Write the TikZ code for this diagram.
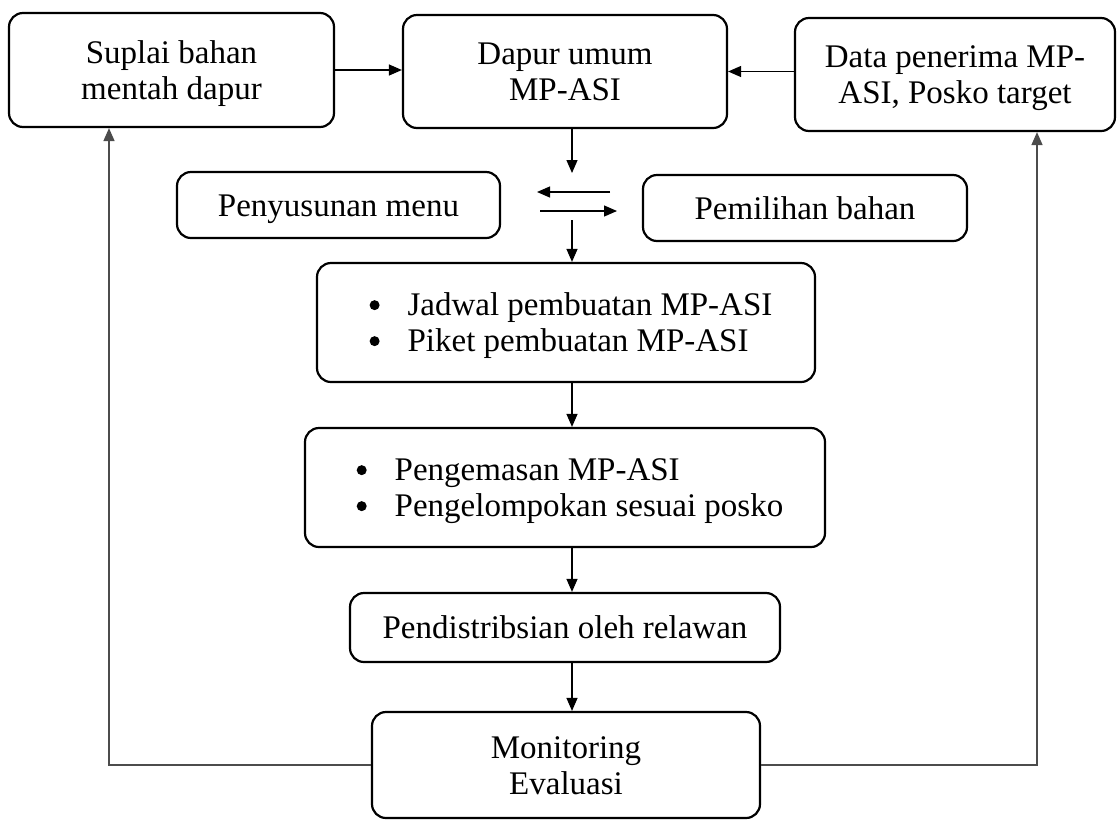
\documentclass[tikz,border=0pt]{standalone}
\usepackage{fontspec}
\setmainfont{Liberation Serif}
\usetikzlibrary{arrows.meta}
\newcommand{\bigbul}{\tikz[baseline=-0.32em]\fill (0pt,0pt) circle (5pt);}
\newcommand{\btext}[1]{\raisebox{-4pt}[\height][\depth]{\begin{tabular}{@{}c@{}}#1\end{tabular}}}
\newcommand{\blist}[2]{\hspace*{10pt}\raisebox{-4pt}[\height][\depth]{\begin{tabular}{@{}l@{\hspace{28pt}}l@{}}\bigbul & #1\\ \bigbul & #2\end{tabular}}}
\begin{document}
\begin{tikzpicture}[x=1pt,y=-1pt,
  box/.style={draw, line width=2.2pt, rounded corners=14pt, inner sep=0pt,
              font=\fontsize{33}{36}\selectfont},
  arr/.style={line width=1.2pt, -{Triangle[length=13pt,width=11pt]}},
  fb/.style={line width=1.5pt, draw=black!70, -{Triangle[length=13pt,width=11pt]}}]
\useasboundingbox (0,0) rectangle (1118,820);

\node[box, minimum width=325pt, minimum height=114pt] (suplai) at (171.5,70) {\btext{Suplai bahan\\mentah dapur}};
\node[box, minimum width=324pt, minimum height=113pt] (dapur) at (565,71.5) {\btext{Dapur umum\\MP-ASI}};
\node[box, minimum width=320pt, minimum height=113pt] (data) at (955,74.5) {\btext{Data penerima MP-\\ASI, Posko target}};
\node[box, minimum width=323pt, minimum height=66pt] (menu) at (338.5,205) {\btext{Penyusunan menu}};
\node[box, minimum width=324pt, minimum height=66pt] (bahan) at (805,208) {\btext{Pemilihan bahan}};
\node[box, minimum width=498pt, minimum height=119pt] (jadwal) at (566,322.5)
  {\blist{Jadwal pembuatan MP-ASI}{Piket pembuatan MP-ASI}};
\node[box, minimum width=520pt, minimum height=119pt] (kemas) at (565,487.5)
  {\blist{Pengemasan MP-ASI}{Pengelompokan sesuai posko}};
\node[box, minimum width=430pt, minimum height=69pt] (distrib) at (565,627.5) {\btext{Pendistribsian oleh relawan}};
\node[box, minimum width=388pt, minimum height=106pt] (monev) at (566,765) {\btext{Monitoring\\Evaluasi}};

\coordinate (col) at (572,0);
\coordinate (a1) at (572,173);
\coordinate (a2) at (572,220);
\coordinate (l1) at (610,192);
\coordinate (l2) at (537,192);
\coordinate (r1) at (540,211);
\coordinate (r2) at (617,211);
\coordinate (lx) at (109,0);
\coordinate (rx) at (1037,0);

\draw[arr] (suplai.east) -- (suplai.east -| dapur.west);
\draw[arr] (data.west |- dapur.east) -- (dapur.east);
\draw[arr] (dapur.south -| col) -- (a1);
\draw[arr] (l1) -- (l2);
\draw[arr] (r1) -- (r2);
\draw[arr] (a2) -- (a2 |- jadwal.north);
\draw[arr] (jadwal.south -| col) -- (kemas.north -| col);
\draw[arr] (kemas.south -| col) -- (distrib.north -| col);
\draw[arr] (distrib.south -| col) -- (monev.north -| col);
\draw[fb] (monev.west) -| (lx |- suplai.south);
\draw[fb] (monev.east) -| (rx |- data.south);
\end{tikzpicture}
\end{document}
